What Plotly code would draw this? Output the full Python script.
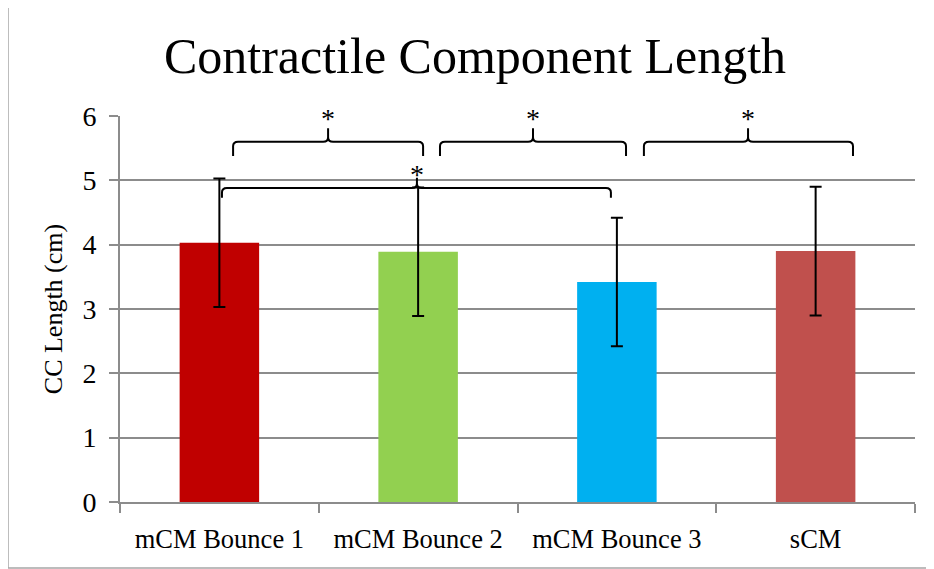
import plotly.graph_objects as go

categories = ["mCM Bounce 1", "mCM Bounce 2", "mCM Bounce 3", "sCM"]
values = [4.03, 3.89, 3.42, 3.90]
errors = [1.0, 1.0, 1.0, 1.0]
colors = ["#C00000", "#92D050", "#00B0F0", "#C0504D"]
y_ticks = [0, 1, 2, 3, 4, 5, 6]

# significance brackets (category units / cm)
bracket_left = [0.069, 1.110, 2.136, 0.013]
bracket_right = [1.025, 2.046, 3.188, 1.970]
bracket_center = [0.547, 1.578, 2.660, 0.994]
bracket_level = [5.60, 5.60, 5.60, 4.88]
bracket_drop = [0.22, 0.22, 0.22, 0.15]
bracket_rise = [0.21, 0.21, 0.21, 0.16]
star_level = [6.00, 6.00, 6.00, 5.12]
bracket_label = ["*", "*", "*", "*"]

FONT = "Liberation Serif"
x_idx = list(range(len(categories)))

fig = go.Figure()
fig.add_trace(go.Bar(
    x=x_idx, y=values, width=0.4,
    marker=dict(color=colors, line=dict(width=0)),
    error_y=dict(type="data", array=errors, visible=True,
                 color="black", thickness=2, width=6),
    showlegend=False,
))

shapes = []
rx, ry = 0.025, 0.07
for xl, xr, xc, yl, dr, rs in zip(bracket_left, bracket_right, bracket_center,
                                  bracket_level, bracket_drop, bracket_rise):
    p = (f"M {xl} {yl-dr} L {xl} {yl-ry} Q {xl} {yl} {xl+rx} {yl} "
         f"L {xc-rx} {yl} Q {xc} {yl} {xc} {yl+ry} L {xc} {yl+rs} "
         f"M {xc} {yl+ry} Q {xc} {yl} {xc+rx} {yl} L {xr-rx} {yl} "
         f"Q {xr} {yl} {xr} {yl-ry} L {xr} {yl-dr}")
    shapes.append(dict(type="path", path=p, xref="x", yref="y",
                       line=dict(color="black", width=2), layer="above"))

shapes.append(dict(type="rect", xref="paper", yref="paper",
                   x0=-0.1409, x1=1.03, y0=-0.171, y1=1.290,
                   line=dict(color="#a6a6a6", width=1.5), layer="below"))

annotations = []
for xc, ys, lab in zip(bracket_center, star_level, bracket_label):
    annotations.append(dict(x=xc, y=ys, xref="x", yref="y",
                            text=lab, showarrow=False, yanchor="middle",
                            yshift=-2,
                            font=dict(family=FONT, size=28, color="black")))

fig.update_layout(
    width=934, height=569,
    margin=dict(l=112, r=27, t=108, b=75),
    paper_bgcolor="white", plot_bgcolor="white",
    title=dict(text="Contractile Component Length", x=0.5, xanchor="center",
               y=0.917, yanchor="middle",
               font=dict(family=FONT, size=50, color="black")),
    shapes=shapes, annotations=annotations,
    xaxis=dict(range=[-0.5, 3.5], tickvals=x_idx, ticktext=categories,
               ticks="", showline=True, linecolor="#8c8c8c", linewidth=2,
               showgrid=False, zeroline=False, ticklabelstandoff=12,
               minor=dict(tickmode="linear", tick0=-0.5, dtick=1,
                          ticks="outside", ticklen=9, tickcolor="#8c8c8c",
                          tickwidth=2, showgrid=False),
               tickfont=dict(family=FONT, size=26.5, color="black")),
    yaxis=dict(range=[0, 6], tickvals=y_ticks, showline=True,
               linecolor="#8c8c8c", linewidth=2, ticks="outside", ticklen=9,
               tickcolor="#8c8c8c", tickwidth=2, ticklabelstandoff=7,
               showgrid=True, gridcolor="#8c8c8c", gridwidth=2,
               zeroline=False,
               title=dict(text="CC Length (cm)", standoff=12,
                          font=dict(family=FONT, size=26, color="black")),
               tickfont=dict(family=FONT, size=28, color="black")),
)

fig.write_html("out.html")
